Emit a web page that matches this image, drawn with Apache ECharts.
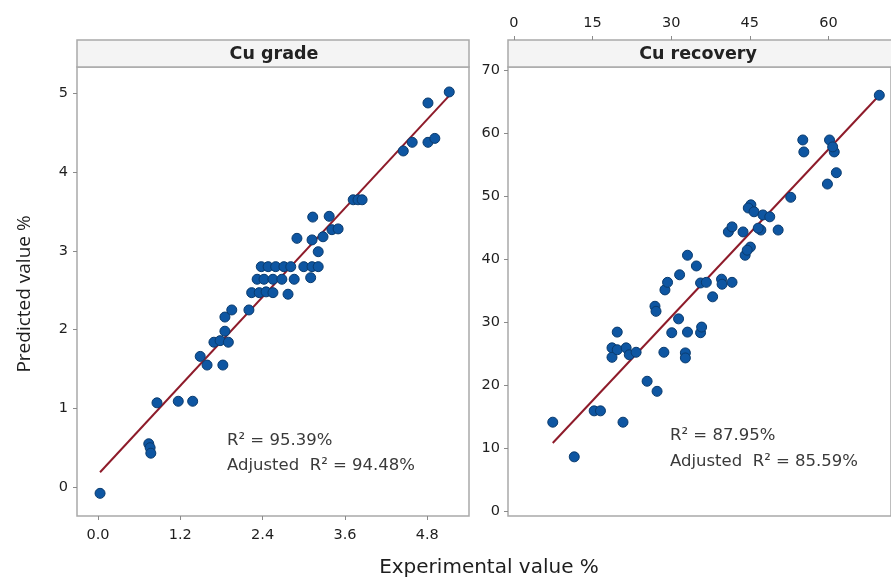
<!DOCTYPE html>
<html>
<head>
<meta charset="utf-8">
<script src="https://cdn.jsdelivr.net/npm/echarts@6/dist/echarts.min.js"></script>
<style>
  html, body { margin: 0; padding: 0; background: #fff; }
  #chart { width: 891px; height: 582px; }
</style>
</head>
<body>
<div id="chart"></div>
<script>
// Cu grade: experimental vs predicted (%)
const gradeExp = [0.03, 0.74, 0.76, 0.77, 0.86, 1.17, 1.38, 1.49, 1.59, 1.82, 1.69, 1.78, 1.90, 1.85, 1.85, 1.95, 2.20,
  2.24, 2.35, 2.45, 2.55, 2.77, 2.32, 2.42, 2.55, 2.68, 2.86, 3.10, 2.38, 2.48, 2.59, 2.71, 2.81, 3.00, 3.12, 3.21,
  3.21, 2.90, 3.12, 3.28, 3.41, 3.50, 3.13, 3.37, 3.72, 3.79, 3.85, 4.45, 4.58, 4.81, 4.91, 4.81, 5.12];
const gradePred = [-0.08, 0.55, 0.50, 0.43, 1.07, 1.09, 1.09, 1.66, 1.55, 1.55, 1.84, 1.86, 1.84, 1.98, 2.16, 2.25, 2.25,
  2.47, 2.47, 2.48, 2.47, 2.45, 2.64, 2.64, 2.64, 2.64, 2.64, 2.66, 2.80, 2.80, 2.80, 2.80, 2.80, 2.80, 2.80, 2.80,
  2.99, 3.16, 3.14, 3.18, 3.27, 3.28, 3.43, 3.44, 3.65, 3.65, 3.65, 4.27, 4.38, 4.38, 4.43, 4.88, 5.02];
const gradeFit = [0.16, 0.94]; // intercept, slope

// Cu recovery: experimental vs predicted (%)
const recExp = [7.4, 11.5, 15.3, 16.5, 20.8, 25.4, 27.3, 19.7, 18.7, 18.7, 19.7, 21.4, 22.0, 23.3, 26.9, 27.1, 28.8, 29.3,
  31.6, 33.1, 34.8, 31.4, 30.1, 33.1, 35.6, 35.8, 28.6, 32.7, 32.7, 35.6, 36.7, 37.9, 39.6, 39.7, 41.6, 40.9, 41.6, 43.7,
  47.1, 50.4, 45.1, 44.1, 44.5, 45.2, 44.7, 45.8, 47.5, 48.8, 52.8, 55.1, 55.3, 60.2, 61.1, 60.8, 61.5, 59.8, 69.7, 46.6];
const recPred = [14.1, 8.6, 15.9, 15.9, 14.1, 20.6, 19.0, 28.4, 25.9, 24.4, 25.6, 25.9, 24.8, 25.2, 32.5, 31.7, 35.1, 36.3,
  37.5, 40.6, 38.9, 30.5, 28.3, 28.4, 28.3, 29.2, 25.2, 25.1, 24.3, 36.2, 36.3, 34.0, 36.8, 36.0, 36.3, 44.3, 45.1, 44.3,
  44.6, 44.6, 41.9, 40.6, 41.4, 48.6, 48.1, 47.5, 47.0, 46.7, 49.8, 58.9, 57.0, 58.9, 57.0, 57.8, 53.7, 51.9, 66.0, 44.9];
const recFit = [4.24, 0.886]; // intercept, slope

// Tick labels
const gradeXTicks = [0, 1.2, 2.4, 3.6, 4.8];
const gradeYTicks = [0, 1, 2, 3, 4, 5];
const recXTicks = [0, 15, 30, 45, 60];
const recYTicks = [0, 10, 20, 30, 40, 50, 60, 70];

const panelTitles = ['Cu grade', 'Cu recovery'];
const statTexts = [
  ['R² = 95.39%', 'Adjusted  R² = 94.48%'],
  ['R² = 87.95%', 'Adjusted  R² = 85.59%']
];

const WIDE = '"DejaVu Sans", sans-serif';
const NARROW = '"Open Sans", "Noto Sans", sans-serif';
const frameColor = '#a9a9a9';
const labelColor = '#1e1e1e';

function zip(a, b) { return a.map((v, i) => [v, b[i]]); }
function fitLine(xs, fit) {
  const lo = Math.min(...xs), hi = Math.max(...xs);
  return [[lo, fit[0] + fit[1] * lo], [hi, fit[0] + fit[1] * hi]];
}

const chart = echarts.init(document.getElementById('chart'));

const tickStyle = { show: true, length: 4, lineStyle: { color: '#8a8a8a', width: 1 } };
const lblStyle = { color: labelColor, fontSize: 14.5, fontFamily: WIDE };
const noLine = { show: false, onZero: false };

const panels = [
  { left: 77, width: 392 },
  { left: 508, width: 386 }
];
const headTop = 40, plotTop = 67, plotBottom = 516;

const markStyle = { color: '#0e56a2', borderColor: '#0a3b6e', borderWidth: 1, opacity: 1 };
const fitStyle = { color: '#8e1b2a', width: 2 };
const statFont = '16.5px ' + WIDE;

const option = {
  animation: false,
  backgroundColor: '#ffffff',
  grid: panels.map(p => ({
    left: p.left, top: plotTop, width: p.width, height: plotBottom - plotTop,
    show: true, borderColor: frameColor, borderWidth: 1.5, backgroundColor: '#ffffff'
  })),
  xAxis: [
    {
      gridIndex: 0, type: 'value', min: -0.306, max: 5.408, position: 'bottom',
      axisLine: noLine, splitLine: { show: false },
      axisTick: Object.assign({ customValues: gradeXTicks }, tickStyle),
      axisLabel: Object.assign({ customValues: gradeXTicks, margin: 12, formatter: v => v.toFixed(1) }, lblStyle)
    },
    {
      gridIndex: 1, type: 'value', min: -1.14, max: 71.93, position: 'top', offset: plotTop - headTop,
      axisLine: noLine, splitLine: { show: false },
      axisTick: Object.assign({ customValues: recXTicks }, tickStyle),
      axisLabel: Object.assign({ customValues: recXTicks, margin: 9 }, lblStyle)
    }
  ],
  yAxis: [
    {
      gridIndex: 0, type: 'value', min: -0.368, max: 5.337, position: 'left',
      axisLine: noLine, splitLine: { show: false },
      axisTick: Object.assign({ customValues: gradeYTicks }, tickStyle),
      axisLabel: Object.assign({ customValues: gradeYTicks, margin: 9 }, lblStyle)
    },
    {
      gridIndex: 1, type: 'value', min: -0.79, max: 70.48, position: 'left',
      axisLine: noLine, splitLine: { show: false },
      axisTick: Object.assign({ customValues: recYTicks }, tickStyle),
      axisLabel: Object.assign({ customValues: recYTicks, margin: 8 }, lblStyle)
    }
  ],
  series: [
    {
      type: 'line', xAxisIndex: 0, yAxisIndex: 0, data: fitLine(gradeExp, gradeFit),
      symbol: 'none', lineStyle: fitStyle, z: 3
    },
    {
      type: 'scatter', xAxisIndex: 0, yAxisIndex: 0, data: zip(gradeExp, gradePred),
      symbolSize: 10, itemStyle: markStyle, z: 4
    },
    {
      type: 'line', xAxisIndex: 1, yAxisIndex: 1, data: fitLine(recExp, recFit),
      symbol: 'none', lineStyle: fitStyle, z: 3
    },
    {
      type: 'scatter', xAxisIndex: 1, yAxisIndex: 1, data: zip(recExp, recPred),
      symbolSize: 10, itemStyle: markStyle, z: 4
    }
  ],
  graphic: [
    // panel header strips
    ...panels.map((p, i) => ({
      type: 'group',
      children: [
        {
          type: 'rect', shape: { x: p.left, y: headTop, width: p.width, height: plotTop - headTop },
          style: { fill: '#f4f4f4', stroke: frameColor, lineWidth: 1.5 }
        },
        {
          type: 'text', x: p.left + (i === 0 ? 197 : 190), y: (headTop + plotTop) / 2 + 1,
          style: {
            text: panelTitles[i], fill: '#222', font: 'bold 17.5px ' + WIDE,
            textAlign: 'center', textVerticalAlign: 'middle'
          }
        }
      ]
    })),
    // fit statistics
    { type: 'text', x: 227, y: 441, style: { text: statTexts[0][0], fill: '#3a3a3a', font: statFont, textVerticalAlign: 'middle' } },
    { type: 'text', x: 227, y: 466, style: { text: statTexts[0][1], fill: '#3a3a3a', font: statFont, textVerticalAlign: 'middle' } },
    { type: 'text', x: 670, y: 436, style: { text: statTexts[1][0], fill: '#3a3a3a', font: statFont, textVerticalAlign: 'middle' } },
    { type: 'text', x: 670, y: 462, style: { text: statTexts[1][1], fill: '#3a3a3a', font: statFont, textVerticalAlign: 'middle' } },
    // shared axis titles
    {
      type: 'text', x: 489, y: 568,
      style: { text: 'Experimental value %', fill: '#1e1e1e', font: '20px ' + WIDE, textAlign: 'center', textVerticalAlign: 'middle' }
    },
    {
      type: 'text', x: 25, y: 294, rotation: Math.PI / 2,
      style: { text: 'Predicted value %', fill: '#1e1e1e', font: '19px ' + NARROW, textAlign: 'center', textVerticalAlign: 'middle' }
    }
  ]
};

chart.setOption(option);
</script>
</body>
</html>
